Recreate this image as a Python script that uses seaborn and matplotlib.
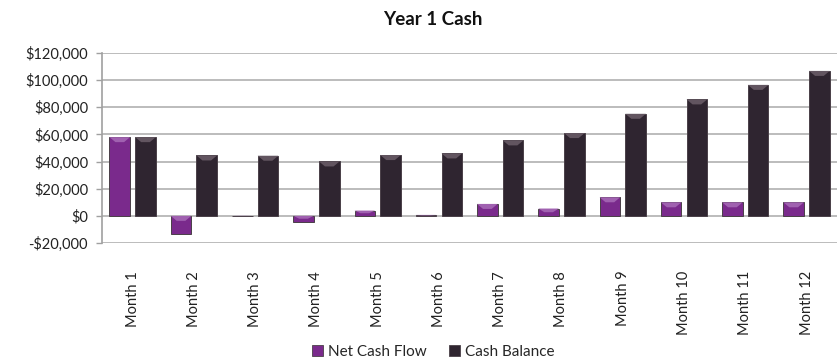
import matplotlib
matplotlib.use("Agg")
import matplotlib.pyplot as plt
import seaborn as sns
import pandas as pd
from matplotlib.patches import Patch, Polygon

months = [f"Month {i}" for i in range(1, 13)]
net_cash_flow = [58000, -13500, -200, -4200, 3900, 700, 8800, 5400, 13700, 10000, 10000, 10000]
cash_balance = [58000, 44500, 44300, 40100, 44800, 46000, 55600, 61000, 75200, 85800, 96500, 106800]
series_names = ["Net Cash Flow", "Cash Balance"]
y_ticks = [-20000, 0, 20000, 40000, 60000, 80000, 100000, 120000]

colors = {"Net Cash Flow": "#7a2a8c", "Cash Balance": "#2f2530"}
bevel_colors = {"#7a2a8c": "#a061b0", "#2f2530": "#625560"}

df = pd.DataFrame({
    "Month": months * 2,
    "Value": net_cash_flow + cash_balance,
    "Series": [series_names[0]] * 12 + [series_names[1]] * 12,
})

sns.set_theme(style="white")
plt.rcParams["font.family"] = ["Lato", "DejaVu Sans"]

fig = plt.figure(figsize=(8.38, 3.62), dpi=100)
ax = fig.add_axes([0.1217, 0.3287, 0.8773, 0.5249])

sns.barplot(data=df, x="Month", y="Value", hue="Series", palette=colors,
            saturation=1, width=0.84, gap=0.2, edgecolor="#4a4048",
            linewidth=0.7, legend=False, ax=ax)

ax.set_xlim(-0.5, 11.5)
ax.set_ylim(-20000, 120000)

# bevelled top face on every bar
px_x = 12.0 / 736.0
px_y = 140000.0 / 190.0
for bar in list(ax.patches):
    x, y = bar.get_x(), bar.get_y()
    w, h = bar.get_width(), bar.get_height()
    if abs(h) < 1:
        continue
    top = max(y, y + h)
    depth = min(5 * px_y, abs(h) * 0.5)
    inset = min(6 * px_x, w * 0.3)
    fc = matplotlib.colors.to_hex(bar.get_facecolor())
    light = bevel_colors.get(fc, fc)
    ax.add_patch(Polygon([(x, top), (x + w, top), (x + w - inset, top - depth),
                          (x + inset, top - depth)], closed=True,
                         facecolor=light, edgecolor="none", zorder=bar.get_zorder() + 0.1))

ax.set_yticks(y_ticks)
ax.set_yticklabels([f"-${abs(v):,}" if v < 0 else f"${v:,}" for v in y_ticks],
                   fontsize=10.5, color="#222222")
ax.set_xticks(range(12))
ax.set_xticklabels(months, rotation=90, fontsize=10.5, color="#222222")
ax.set_xlabel("")
ax.set_ylabel("")

ax.grid(axis="y", color="#b0b0b0", linewidth=1.2)
ax.set_axisbelow(True)
for s in ["top", "right", "bottom"]:
    ax.spines[s].set_visible(False)
ax.spines["left"].set_color("#a0a0a0")
ax.spines["left"].set_linewidth(1.2)
ax.tick_params(axis="y", which="major", left=True, length=4, width=1,
               color="#a0a0a0", pad=6)
ax.tick_params(axis="x", bottom=False, pad=14)

fig.text(0.517, 0.945, "Year 1 Cash", ha="center", va="center",
         fontsize=13.5, fontweight="bold", color="#111111")

handles = [Patch(facecolor=colors[n], edgecolor="#4a4048", linewidth=0.6, label=n)
           for n in series_names]
fig.legend(handles=handles, loc="center", bbox_to_anchor=(0.517, 0.028), ncol=2,
           frameon=False, fontsize=11, handlelength=0.7, handleheight=0.7,
           handletextpad=0.3, columnspacing=1.5)

fig.savefig("out.png", dpi=100)
